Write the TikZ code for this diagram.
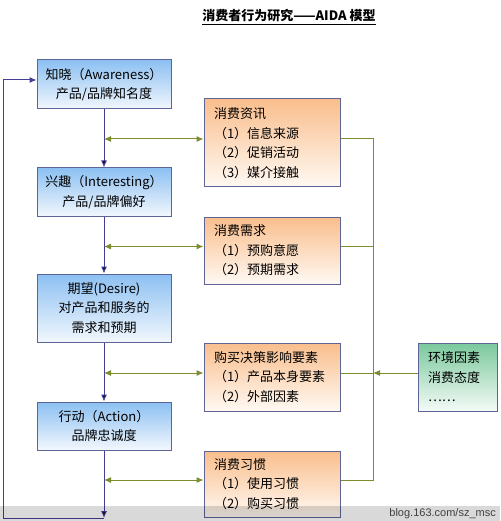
\documentclass[tikz,border=0pt]{standalone}
\usepackage{fontspec}
\setmainfont{Noto Sans CJK SC}
\newfontfamily\blogfont{Liberation Sans}
\usetikzlibrary{shapes,arrows,arrows.meta,positioning}

\definecolor{stagetop}{RGB}{140,192,242}
\definecolor{stagebot}{RGB}{242,247,253}
\definecolor{factortop}{RGB}{249,190,140}
\definecolor{factorbot}{RGB}{255,249,243}
\definecolor{envtop}{RGB}{122,200,156}
\definecolor{envbot}{RGB}{244,251,247}
\definecolor{boxedge}{RGB}{95,100,150}
\definecolor{flowblue}{RGB}{68,62,148}
\definecolor{linkgreen}{RGB}{125,140,45}

\begin{document}
\begin{tikzpicture}[x = 1pt, y = -1pt, on grid, >={Latex[length=7pt, width=6pt]}, font = \fontsize{13}{19.5}\selectfont, stage/.style = {draw = boxedge, line width = 1pt, top color = stagetop, bottom color = stagebot, minimum width = 134pt, align = center}, factor/.style = {draw = boxedge, line width = 1pt, top color = factortop, bottom color = factorbot, inner xsep = 10pt, text width = 116pt, align = left}, envbox/.style = {draw = boxedge, line width = 1pt, top color = envtop, bottom color = envbot, inner xsep = 10pt, text width = 59pt, align = left, minimum height = 68pt}, flow/.style = {->, draw = flowblue, line width = 1pt}, link/.style = {<->, draw = linkgreen, line width = 1pt}, bus/.style = {draw = linkgreen, line width = 1pt}]
\useasboundingbox (0,0) rectangle (500,521);

\node[font = \bfseries\fontsize{13}{15}\selectfont] (title) at (289,17) {\underline{消费者行为研究——AIDA 模型}};

\node[stage, minimum height = 49pt] (aware) at (104,84.5) {知晓（Awareness）\\产品/品牌知名度};
\node[stage, minimum height = 48pt, below = 107.5pt of aware] (interest) {兴趣（Interesting）\\产品/品牌偏好};
\node[stage, minimum height = 68pt, below = 116pt of interest] (desire) {期望(Desire)\\对产品和服务的\\需求和预期};
\node[stage, minimum height = 48pt, below = 118pt of desire] (action) {行动（Action）\\品牌忠诚度};

\node[factor, minimum height = 88pt] (info) at (272,143) {消费资讯\\（1）信息来源\\（2）促销活动\\（3）媒介接触};
\node[factor, minimum height = 67pt, below = 107.5pt of info] (need) {消费需求\\（1）预购意愿\\（2）预期需求};
\node[factor, minimum height = 68pt, below = 126.5pt of need] (decide) {购买决策影响要素\\（1）产品本身要素\\（2）外部因素};
\node[factor, minimum height = 66pt, below = 107pt of decide] (habit) {消费习惯\\（1）使用习惯\\（2）购买习惯};

\node[envbox, right = 185.5pt of decide] (env) {环境因素\\消费态度\\……};

\coordinate (bot) at (104,518);
\coordinate (corner) at (3,518);
\coordinate (busx) at (373,0);

% AIDA chain
\path[flow] (aware) edge (interest);
\path[flow] (interest) edge (desire);
\path[flow] (desire) edge (action);
\path[flow] (action) edge (bot);
\draw[flow] (bot) -- (corner) |- ([yshift = 4.5pt]aware.west);

% factors
\coordinate (infoL) at ([yshift = 4pt]info.west);
\coordinate (needL) at ([yshift = 4pt]need.west);
\coordinate (decideL) at ([yshift = 4pt]decide.west);
\coordinate (habitL) at ([yshift = 4pt]habit.west);
\draw[link] (infoL -| aware) -- (infoL);
\draw[link] (needL -| aware) -- (needL);
\draw[link] (decideL -| aware) -- (decideL);
\draw[link] (habitL -| aware) -- (habitL);

\coordinate (infoR) at ([yshift = 4pt]info.east);
\coordinate (needR) at ([yshift = 4pt]need.east);
\coordinate (decideR) at ([yshift = 4pt]decide.east);
\coordinate (habitR) at ([yshift = 4pt]habit.east);
\coordinate (envL) at ([yshift = 4pt]env.west);
\draw[bus] (infoR) -- (infoR -| busx) -- (habitR -| busx) -- (habitR);
\draw[bus] (needR) -- (needR -| busx);
\draw[bus] (decideR) -- (decideR -| busx);
\draw[bus, ->] (envL) -- (envL -| busx);

% watermark band
\fill[black, fill opacity = 0.15] (0,506) rectangle (500,521);
\node[font = \blogfont\fontsize{11}{13}\selectfont, text = black!75, anchor = east, inner sep = 0pt] (blog) at (496,514) {blog.163.com/sz\_msc};
\end{tikzpicture}
\end{document}
